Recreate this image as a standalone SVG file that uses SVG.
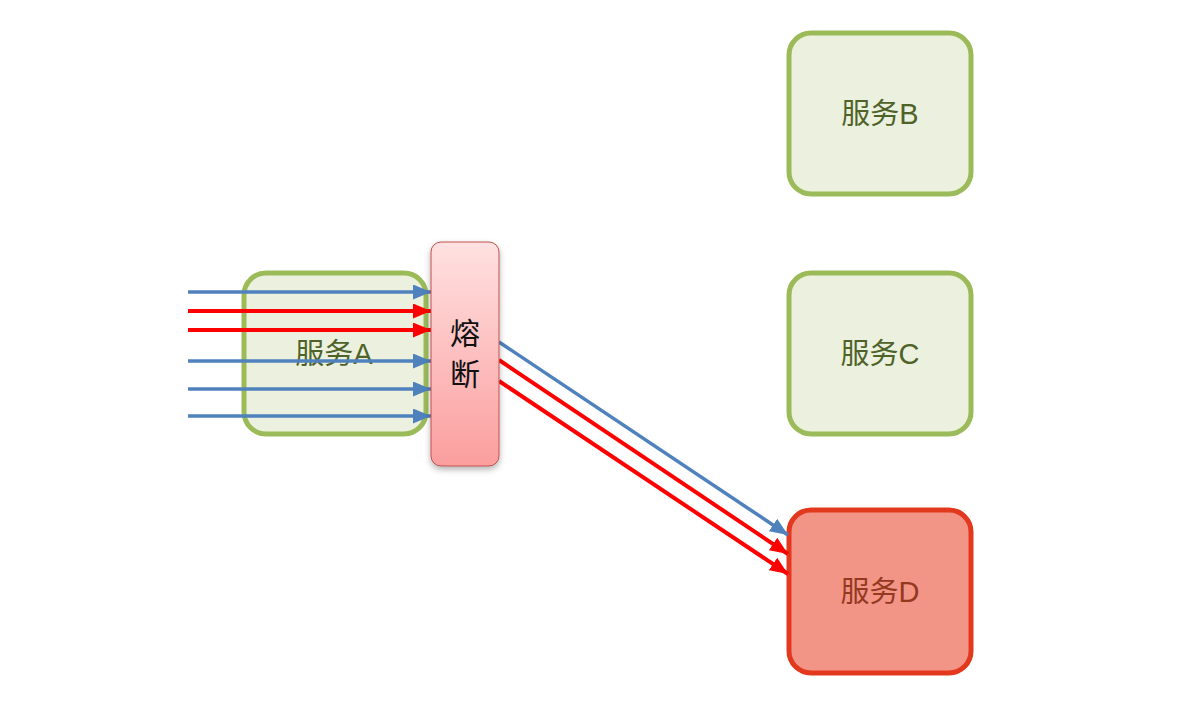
<svg xmlns="http://www.w3.org/2000/svg" width="1190" height="724" viewBox="0 0 1190 724">
<style>
.svc{fill:#ebf1de;stroke:#9bbb59;stroke-width:5}
.svcd{fill:#f29587;stroke:#e2391e;stroke-width:5}
.lbl{font-family:"Liberation Sans","Noto Sans CJK SC",sans-serif;font-size:29px;text-anchor:middle;fill:#4f6228}
.lbld{font-family:"Liberation Sans","Noto Sans CJK SC",sans-serif;font-size:29px;text-anchor:middle;fill:#94391f}
.fuse{font-family:"Liberation Sans","Noto Sans CJK SC",sans-serif;font-size:30px;text-anchor:middle;fill:#111}
.b{stroke:#4f81bd;stroke-width:3.5;fill:none;marker-end:url(#ab)}
.r{stroke:#ff0000;stroke-width:4;fill:none;marker-end:url(#ar)}
</style>
<defs>
<marker id="ab" markerUnits="userSpaceOnUse" markerWidth="18" markerHeight="15" refX="18" refY="7.5" orient="auto"><path d="M0,0L18,7.5L0,15z" fill="#4f81bd"/></marker>
<marker id="ar" markerUnits="userSpaceOnUse" markerWidth="18" markerHeight="15" refX="18" refY="7.5" orient="auto"><path d="M0,0L18,7.5L0,15z" fill="#ff0000"/></marker>
<linearGradient id="fg" x1="0" y1="0" x2="0" y2="1"><stop offset="0" stop-color="#ffe1e1"/><stop offset="1" stop-color="#fb9e9e"/></linearGradient>
<filter id="sh" x="-30%" y="-10%" width="160%" height="130%"><feDropShadow dx="0" dy="3" stdDeviation="3" flood-color="#000" flood-opacity="0.3"/></filter>
</defs>
<rect width="1190" height="724" fill="#fff"/>
<g id="serviceA"><rect class="svc" x="244" y="273" width="182" height="161" rx="22"/><text class="lbl" x="334" y="364">服务A</text></g>
<g id="serviceB"><rect class="svc" x="789" y="33" width="182" height="161" rx="22"/><text class="lbl" x="880" y="124">服务B</text></g>
<g id="serviceC"><rect class="svc" x="789" y="273" width="182" height="161" rx="22"/><text class="lbl" x="880" y="364">服务C</text></g>
<g id="serviceD"><rect class="svcd" x="789" y="510" width="182" height="163" rx="22"/><text class="lbld" x="880" y="602">服务D</text></g>
<g id="connectors">
<line class="b" x1="188" y1="292" x2="431" y2="292"/>
<line class="r" x1="188" y1="311" x2="431" y2="311"/>
<line class="r" x1="188" y1="330" x2="431" y2="330"/>
<line class="b" x1="188" y1="361" x2="431" y2="361"/>
<line class="b" x1="188" y1="389" x2="431" y2="389"/>
<line class="b" x1="188" y1="416" x2="431" y2="416"/>
<line class="b" x1="499" y1="342" x2="788" y2="535"/>
<line class="r" x1="499" y1="360" x2="788" y2="554"/>
<line class="r" x1="499" y1="381" x2="788" y2="574"/>
</g>
<g id="fuse"><rect x="431" y="242" width="68" height="224" rx="10" fill="url(#fg)" stroke="#c0504d" stroke-width="1" filter="url(#sh)"/><text class="fuse" x="465" y="344">熔</text><text class="fuse" x="465" y="385">断</text></g>
</svg>
